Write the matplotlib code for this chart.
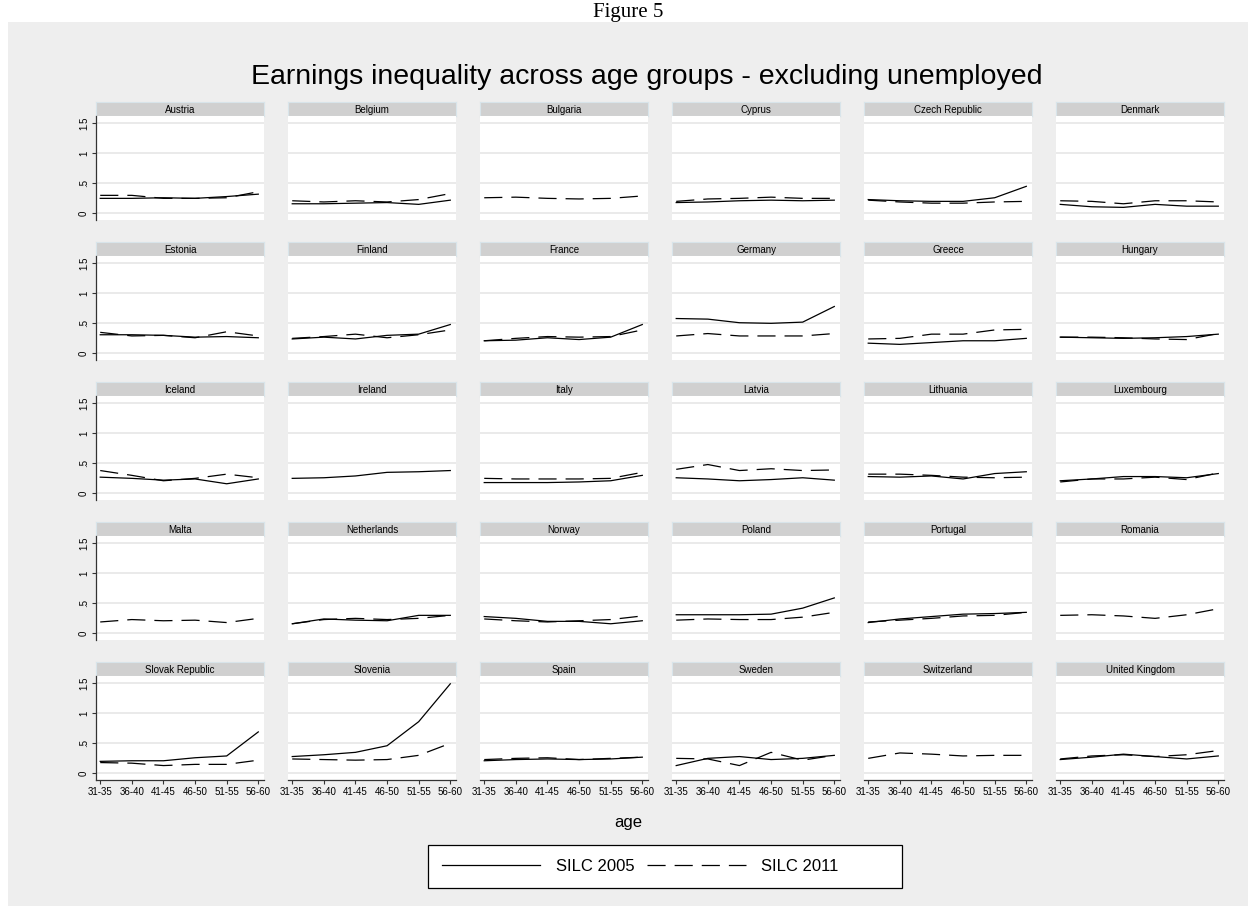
import matplotlib.pyplot as plt
from matplotlib.patches import Rectangle
from matplotlib.lines import Line2D

# Data: earnings inequality by age group, two survey waves (None = not available)
ages = ["31-35", "36-40", "41-45", "46-50", "51-55", "56-60"]

countries = [
    "Austria", "Belgium", "Bulgaria", "Cyprus", "Czech Republic", "Denmark",
    "Estonia", "Finland", "France", "Germany", "Greece", "Hungary",
    "Iceland", "Ireland", "Italy", "Latvia", "Lithuania", "Luxembourg",
    "Malta", "Netherlands", "Norway", "Poland", "Portugal", "Romania",
    "Slovak Republic", "Slovenia", "Spain", "Sweden", "Switzerland", "United Kingdom",
]

silc_2005 = [
    [0.25, 0.25, 0.26, 0.25, 0.28, 0.32],
    [0.16, 0.16, 0.17, 0.18, 0.15, 0.22],
    None,
    [0.18, 0.19, 0.21, 0.22, 0.21, 0.22],
    [0.23, 0.21, 0.20, 0.20, 0.26, 0.45],
    [0.15, 0.11, 0.10, 0.15, 0.12, 0.12],
    [0.31, 0.31, 0.30, 0.27, 0.28, 0.26],
    [0.24, 0.27, 0.24, 0.30, 0.32, 0.48],
    [0.21, 0.22, 0.26, 0.23, 0.27, 0.48],
    [0.58, 0.57, 0.51, 0.50, 0.52, 0.78],
    [0.17, 0.15, 0.18, 0.21, 0.21, 0.25],
    [0.27, 0.26, 0.25, 0.26, 0.28, 0.32],
    [0.27, 0.25, 0.22, 0.24, 0.16, 0.24],
    [0.25, 0.26, 0.29, 0.35, 0.36, 0.38],
    [0.18, 0.18, 0.18, 0.19, 0.21, 0.30],
    [0.26, 0.24, 0.21, 0.23, 0.26, 0.22],
    [0.28, 0.27, 0.29, 0.24, 0.33, 0.36],
    [0.21, 0.24, 0.28, 0.28, 0.26, 0.33],
    None,
    [0.16, 0.24, 0.22, 0.21, 0.30, 0.30],
    [0.28, 0.25, 0.20, 0.20, 0.16, 0.21],
    [0.31, 0.31, 0.31, 0.32, 0.42, 0.59],
    [0.18, 0.24, 0.28, 0.32, 0.33, 0.35],
    None,
    [0.20, 0.21, 0.21, 0.26, 0.29, 0.69],
    [0.28, 0.31, 0.35, 0.46, 0.86, 1.49],
    [0.21, 0.23, 0.24, 0.23, 0.24, 0.27],
    [0.13, 0.25, 0.28, 0.23, 0.25, 0.30],
    None,
    [0.23, 0.27, 0.32, 0.28, 0.24, 0.29],
]

silc_2011 = [
    [0.30, 0.30, 0.25, 0.25, 0.26, 0.36],
    [0.21, 0.19, 0.21, 0.19, 0.23, 0.33],
    [0.26, 0.27, 0.25, 0.24, 0.25, 0.29],
    [0.20, 0.24, 0.25, 0.27, 0.25, 0.25],
    [0.22, 0.19, 0.17, 0.17, 0.19, 0.20],
    [0.21, 0.20, 0.16, 0.21, 0.21, 0.19],
    [0.35, 0.29, 0.30, 0.26, 0.36, 0.29],
    [0.25, 0.28, 0.32, 0.26, 0.31, 0.39],
    [0.21, 0.25, 0.28, 0.27, 0.28, 0.39],
    [0.29, 0.33, 0.29, 0.29, 0.29, 0.33],
    [0.24, 0.25, 0.32, 0.32, 0.39, 0.40],
    [0.27, 0.27, 0.26, 0.24, 0.23, 0.33],
    [0.38, 0.30, 0.21, 0.25, 0.32, 0.26],
    None,
    [0.25, 0.24, 0.24, 0.24, 0.25, 0.35],
    [0.40, 0.48, 0.38, 0.41, 0.38, 0.39],
    [0.32, 0.32, 0.30, 0.27, 0.26, 0.27],
    [0.19, 0.24, 0.24, 0.27, 0.23, 0.34],
    [0.19, 0.23, 0.21, 0.22, 0.18, 0.25],
    [0.16, 0.23, 0.25, 0.23, 0.25, 0.30],
    [0.24, 0.21, 0.19, 0.21, 0.23, 0.29],
    [0.22, 0.24, 0.23, 0.23, 0.27, 0.35],
    [0.19, 0.22, 0.25, 0.29, 0.30, 0.35],
    [0.30, 0.31, 0.29, 0.25, 0.31, 0.41],
    [0.18, 0.17, 0.13, 0.15, 0.15, 0.22],
    [0.24, 0.23, 0.22, 0.23, 0.30, 0.50],
    [0.23, 0.25, 0.26, 0.23, 0.25, 0.27],
    [0.25, 0.24, 0.13, 0.35, 0.22, 0.30],
    [0.25, 0.34, 0.32, 0.29, 0.30, 0.30],
    [0.24, 0.29, 0.31, 0.28, 0.31, 0.38],
]

yticks = [0, 0.5, 1, 1.5]
ytick_labels = ["0", ".5", "1", "1.5"]

plt.rcParams["font.family"] = ["Liberation Sans Narrow", "Liberation Sans", "DejaVu Sans"]

W, H = 1256, 921
fig = plt.figure(figsize=(W / 100, H / 100), dpi=100)
fig.patch.set_facecolor("white")


def box(x0, y0, x1, y1):
    # pixel box (top-left origin) -> figure fraction rect
    return [x0 / W, 1 - y1 / H, (x1 - x0) / W, (y1 - y0) / H]


# grey graph region
fig.patches.append(Rectangle((8 / W, 1 - 906 / H), 1240 / W, 884 / H,
                             transform=fig.transFigure, facecolor="#eeeeee",
                             edgecolor="none", zorder=-1))

fig.text(628 / W, 1 - 17 / H, "Figure 5", ha="center", va="baseline",
         fontsize=15, family="Liberation Serif")
fig.text(647 / W, 1 - 77 / H,
         "Earnings inequality across age groups - excluding unemployed",
         ha="center", va="center", fontsize=20.5)

solid_style = dict(color="black", lw=0.9, linestyle="-")
dash_style = dict(color="black", lw=0.9, linestyle=(0, (14.5, 7.2)))

x = list(range(len(ages)))
for i, name in enumerate(countries):
    r, c = divmod(i, 6)
    left = 95.8 + 192.0 * c
    right = left + 168.5
    top = 102 + 140 * r

    # strip header
    hax = fig.add_axes(box(left, top, right, top + 14))
    hax.set_facecolor("#d0d0d0")
    for s in hax.spines.values():
        s.set_color("#d8e4ea")
        s.set_linewidth(0.8)
    hax.set_xticks([])
    hax.set_yticks([])
    hax.text(0.5, 0.45, name, ha="center", va="center", fontsize=7,
             transform=hax.transAxes)

    ax = fig.add_axes(box(left, top + 14, right, top + 118))
    ax.set_facecolor("white")
    ax.set_xlim(-0.14, 5.19)
    ax.set_ylim(-0.11, 1.62)
    for yv in yticks:
        ax.axhline(yv, color="#e8e8e8", lw=1.3, zorder=0)

    if silc_2005[i] is not None:
        ax.plot(x, silc_2005[i], **solid_style)
    if silc_2011[i] is not None:
        ax.plot(x, silc_2011[i], **dash_style)

    for s in ax.spines.values():
        s.set_visible(False)
    ax.set_yticks(yticks)
    ax.set_xticks(x)
    if c == 0:
        ax.spines["left"].set_visible(True)
        ax.spines["left"].set_color("#333333")
        ax.spines["left"].set_linewidth(0.9)
        ax.set_yticklabels(ytick_labels, rotation=90, va="center", fontsize=7)
        ax.tick_params(axis="y", length=3, width=0.8, color="#333333", pad=2)
    else:
        ax.tick_params(axis="y", length=0, labelleft=False)
    if r == 4:
        ax.spines["bottom"].set_visible(True)
        ax.spines["bottom"].set_color("#333333")
        ax.spines["bottom"].set_linewidth(0.9)
        ax.set_xticklabels(ages, fontsize=7)
        ax.tick_params(axis="x", length=3, width=0.8, color="#333333", pad=2)
    else:
        ax.tick_params(axis="x", length=0, labelbottom=False)

fig.text(628 / W, 1 - 822 / H, "age", ha="center", va="center", fontsize=12)

# legend box drawn separately so it can be wider than its contents
fig.patches.append(Rectangle((428 / W, 1 - 888 / H), 474 / W, 43 / H,
                             transform=fig.transFigure, facecolor="white",
                             edgecolor="black", lw=0.9, zorder=1))
handles = [Line2D([], [], **solid_style), Line2D([], [], **dash_style)]
leg = fig.legend(handles, ["SILC 2005", "SILC 2011"], ncol=2,
                 loc="center left", bbox_to_anchor=(442 / W, 1 - 866.5 / H),
                 fontsize=12, frameon=False, handlelength=5.9,
                 handletextpad=0.95, columnspacing=0.75, borderpad=0,
                 borderaxespad=0)
leg.set_zorder(2)

fig.savefig("out.png", dpi=100, facecolor=fig.get_facecolor())
